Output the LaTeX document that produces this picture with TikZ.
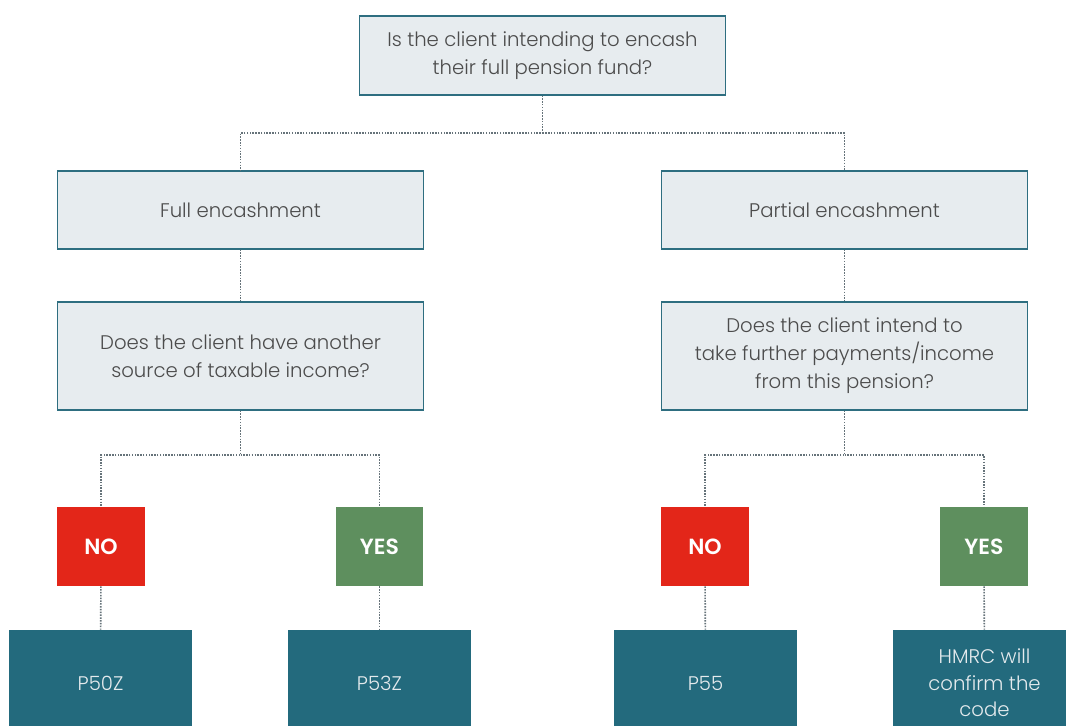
\documentclass[tikz,border=0pt]{standalone}
\usepackage{fontspec}
\IfFontExistsTF{Poppins Light}{\setmainfont{Poppins Light}}{\setmainfont{Poppins}}
\IfFontExistsTF{Poppins SemiBold}{\newfontfamily\yesnofont{Poppins SemiBold}}{\newfontfamily\yesnofont{Poppins}[UprightFont=*-Bold]}
\definecolor{boxfill}{HTML}{E7ECEF}
\definecolor{boxline}{HTML}{2E6E80}
\definecolor{dotline}{HTML}{66737A}
\definecolor{nored}{HTML}{E32619}
\definecolor{yesgreen}{HTML}{5E8F5E}
\definecolor{codeteal}{HTML}{236A7D}
\definecolor{codetext}{HTML}{E4EAED}
\begin{document}
\begin{tikzpicture}[x=0.02cm,y=-0.02cm,
    question/.style={draw=boxline,fill=boxfill,line width=0.6pt,text=black!70,
      minimum width=7.34cm,align=center,font=\fontsize{11.2}{16}\selectfont},
    answer/.style={minimum width=1.76cm,minimum height=1.58cm,text=white,
      font=\yesnofont\fontsize{12.5}{14}\selectfont},
    code/.style={fill=codeteal,text=codetext,minimum width=3.66cm,minimum height=2.12cm,
      align=center,font=\fontsize{11.2}{15}\selectfont},
    link/.style={draw=dotline,line width=0.9pt,dash pattern=on 0.85pt off 0.75pt}]
            \clip (0,0) rectangle (1066,725);
            % Nodes
            \node[question,minimum height=1.58cm] (A) at (542.5,55.5){Is the client intending to encash\\their full pension fund?};
            \node[question,minimum height=1.56cm] (B) at (240.5,210){Full encashment};
            \node[question,minimum height=1.56cm] (C) at (844.5,210){Partial encashment};
            \node[question,minimum height=2.16cm] (D) at (240.5,356){Does the client have another\\source of taxable income?};
            \node[question,minimum height=2.16cm] (E) at (844.5,356){Does the client intend to\\take further payments/income\\from this pension?};
            \node[answer,fill=nored] (F) at (101,546.5){NO};
            \node[answer,fill=yesgreen] (G) at (379.5,546.5){YES};
            \node[answer,fill=nored] (H) at (705,546.5){NO};
            \node[answer,fill=yesgreen] (I) at (984,546.5){YES};
            \node[code] (J) at (100.5,683){P50Z};
            \node[code] (K) at (379.5,683){P53Z};
            \node[code] (L) at (705.5,683){P55};
            \node[code] (M) at (984.5,683){HMRC will\\confirm the\\code};
            % Junctions
            \coordinate (a) at (542.5,133);
            \coordinate (d) at (240.5,455);
            \coordinate (e) at (844.5,455);
            % Edges
            \draw[link] (A.south) -- (a) -| (B.north);
            \draw[link] (a) -| (C.north);
            \draw[link] (B) -- (D);
            \draw[link] (C) -- (E);
            \draw[link] (D.south) -- (d) -| (F.north);
            \draw[link] (d) -| (G.north);
            \draw[link] (E.south) -- (e) -| (H.north);
            \draw[link] (e) -| (I.north);
            \draw[link] (F) -- (J);
            \draw[link] (G) -- (K);
            \draw[link] (H) -- (L);
            \draw[link] (I) -- (M);
        \end{tikzpicture}
\end{document}
